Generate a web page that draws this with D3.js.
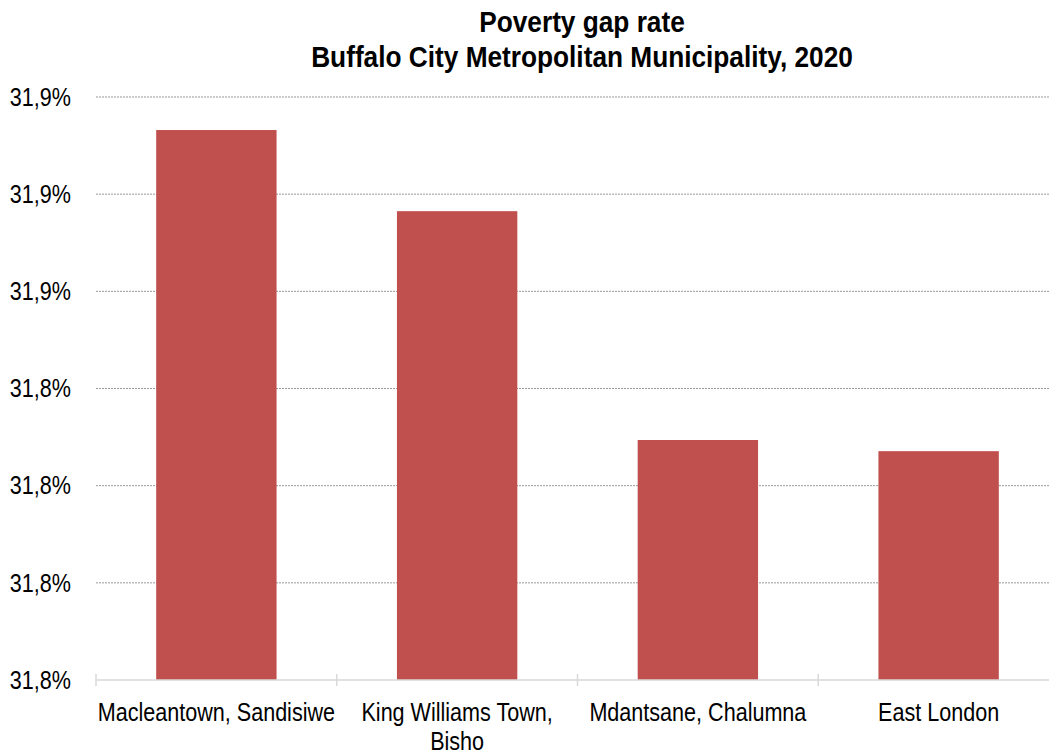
<!DOCTYPE html>
<html lang="en">
<head>
  <meta charset="UTF-8">
  <title>Poverty gap rate</title>
  <style>
    body { margin: 0; background: #fff; }
    svg { display: block; font-family: "Liberation Sans", Arial, sans-serif; }
    .grid line { stroke: #999; stroke-dasharray: 2,1; }
    .tick text { fill: #000; }
  </style>
</head>
<body>
  <script src="https://d3js.org/d3.v7.min.js"></script>
  <script>
    const categories = ["Macleantown, Sandisiwe", "King Williams Town, Bisho", "Mdantsane, Chalumna", "East London"];
    const values = [31.8932, 31.8765, 31.8294, 31.8271];
    const yTicks = [31.78, 31.80, 31.82, 31.84, 31.86, 31.88, 31.90];
    const titleLines = ["Poverty gap rate", "Buffalo City Metropolitan Municipality, 2020"];

    const width = 1049, height = 755;
    const margin = { top: 97, right: -10, bottom: 75, left: 96 };
    const innerW = width - margin.left - margin.right;
    const innerH = height - margin.top - margin.bottom;
    // no narrow font installed, so squeeze Liberation Sans horizontally
    const narrow = 0.83;

    const svg = d3.select("body").append("svg").attr("width", width).attr("height", height);

    svg.append("g").selectAll("text").data(titleLines).enter().append("text")
      .attr("transform", (d, i) => `translate(582,${32 + i * 35}) scale(0.905,1)`)
      .attr("text-anchor", "middle")
      .attr("font-size", "29px").attr("font-weight", "bold")
      .text(d => d);

    const g = svg.append("g").attr("transform", `translate(${margin.left},${margin.top})`);

    const x = d3.scaleBand().domain(categories).range([0, innerW]).paddingInner(0.5).paddingOuter(0.25);
    const y = d3.scaleLinear().domain([31.78, 31.90]).range([innerH, 0]);

    const fmt = v => d3.format(".1f")(v).replace(".", ",") + "%";

    // gridlines
    g.append("g").attr("class", "grid")
      .selectAll("line").data(yTicks.slice(1)).enter().append("line")
      .attr("x1", 0).attr("x2", innerW)
      .attr("y1", d => y(d)).attr("y2", d => y(d));

    // y labels
    const yAxis = g.append("g").call(d3.axisLeft(y).tickValues(yTicks).tickFormat(fmt).tickSize(0));
    yAxis.select(".domain").remove();
    yAxis.selectAll("text")
      .attr("font-size", "26px").attr("font-family", "inherit")
      .attr("x", 0)
      .attr("transform", `translate(-25,0) scale(${narrow},1)`);

    // bars
    g.append("g").selectAll("rect").data(values).enter().append("rect")
      .attr("x", (d, i) => x(categories[i]))
      .attr("width", x.bandwidth())
      .attr("y", d => y(d))
      .attr("height", d => innerH - y(d))
      .attr("fill", "#c0504d");

    // x axis line with category separators
    const step = x.step();
    const xa = g.append("g").attr("transform", `translate(0,${innerH})`);
    xa.append("line").attr("x1", 0).attr("x2", innerW).attr("stroke", "#d9d9d9").attr("stroke-width", 1.5);
    xa.selectAll(".sep").data(d3.range(categories.length + 1)).enter().append("line")
      .attr("x1", i => i * step).attr("x2", i => i * step)
      .attr("y1", -6).attr("y2", 6)
      .attr("stroke", "#d9d9d9").attr("stroke-width", 1.5);

    // x labels, wrapped to the band step
    xa.selectAll(".lbl").data(categories).enter().append("text")
      .attr("text-anchor", "middle")
      .attr("font-size", "26px")
      .attr("transform", d => `translate(${x(d) + x.bandwidth() / 2},41) scale(${narrow},1)`)
      .each(function (d) {
        const t = d3.select(this);
        const words = d.split(" ");
        let line = [];
        let ts = t.append("tspan").attr("x", 0).attr("dy", 0);
        words.forEach(w => {
          line.push(w);
          ts.text(line.join(" "));
          if (ts.node().getComputedTextLength() * narrow > step && line.length > 1) {
            line.pop();
            ts.text(line.join(" "));
            line = [w];
            ts = t.append("tspan").attr("x", 0).attr("dy", "1.12em").text(w);
          }
        });
      });
  </script>
</body>
</html>
